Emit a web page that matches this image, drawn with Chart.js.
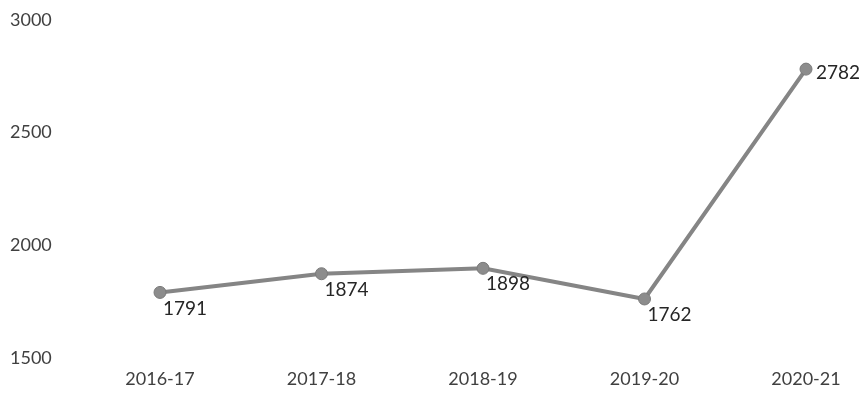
<!DOCTYPE html>
<html>
<head>
<meta charset="utf-8">
<script src="https://cdn.jsdelivr.net/npm/chart.js@4/dist/chart.umd.min.js"></script>
<style>
  html, body { margin: 0; padding: 0; background: #ffffff; }
  #wrap { width: 865px; height: 401px; position: relative; }
</style>
</head>
<body>
<div id="wrap"><canvas id="c"></canvas></div>
<script>
const categories = ['2016-17', '2017-18', '2018-19', '2019-20', '2020-21'];
const values = [1791, 1874, 1898, 1762, 2782];
const yTicks = [1500, 2000, 2500, 3000];
const labelPlacement = ['belowRight', 'belowRight', 'belowRight', 'belowRight', 'right'];

const valueLabels = {
  id: 'valueLabels',
  afterDatasetsDraw(chart) {
    const ctx = chart.ctx;
    const meta = chart.getDatasetMeta(0);
    ctx.save();
    ctx.font = '19px Lato';
    ctx.fillStyle = '#262626';
    ctx.textBaseline = 'middle';
    ctx.textAlign = 'left';
    meta.data.forEach((pt, i) => {
      const v = chart.data.datasets[0].data[i];
      if (labelPlacement[i] === 'right') {
        ctx.fillText(String(v), pt.x + 10, pt.y + 4);
      } else {
        ctx.fillText(String(v), pt.x + 3, pt.y + 16);
      }
    });
    ctx.restore();
  }
};

new Chart(document.getElementById('c'), {
  type: 'line',
  data: {
    labels: categories,
    datasets: [{
      data: values,
      borderColor: '#858585',
      borderWidth: 4,
      pointRadius: 6,
      pointBackgroundColor: '#8c8c8c',
      pointBorderColor: '#7a7a7a',
      pointBorderWidth: 1,
      tension: 0,
      fill: false
    }]
  },
  options: {
    responsive: true,
    maintainAspectRatio: false,
    animation: false,
    events: [],
    layout: { padding: { left: 10, right: 59, top: 20, bottom: 0 } },
    plugins: { legend: { display: false }, tooltip: { enabled: false } },
    scales: {
      x: {
        offset: false,
        grid: { display: false, drawTicks: false },
        border: { display: false },
        ticks: { color: '#404040', font: { family: 'Lato', size: 18 }, padding: 10, maxRotation: 0 },
        afterFit(scale) { scale.height = 43; }
      },
      y: {
        min: 1500,
        max: 3000,
        grid: { display: false, drawTicks: false },
        border: { display: false },
        afterBuildTicks(scale) { scale.ticks = yTicks.map(v => ({ value: v })); },
        ticks: {
          color: '#404040',
          font: { family: 'Lato', size: 18 },
          crossAlign: 'far',
          padding: 0,
          callback: (v) => String(v)
        },
        afterFit(scale) { scale.width = 150; }
      }
    }
  },
  plugins: [valueLabels]
});
</script>
</body>
</html>
